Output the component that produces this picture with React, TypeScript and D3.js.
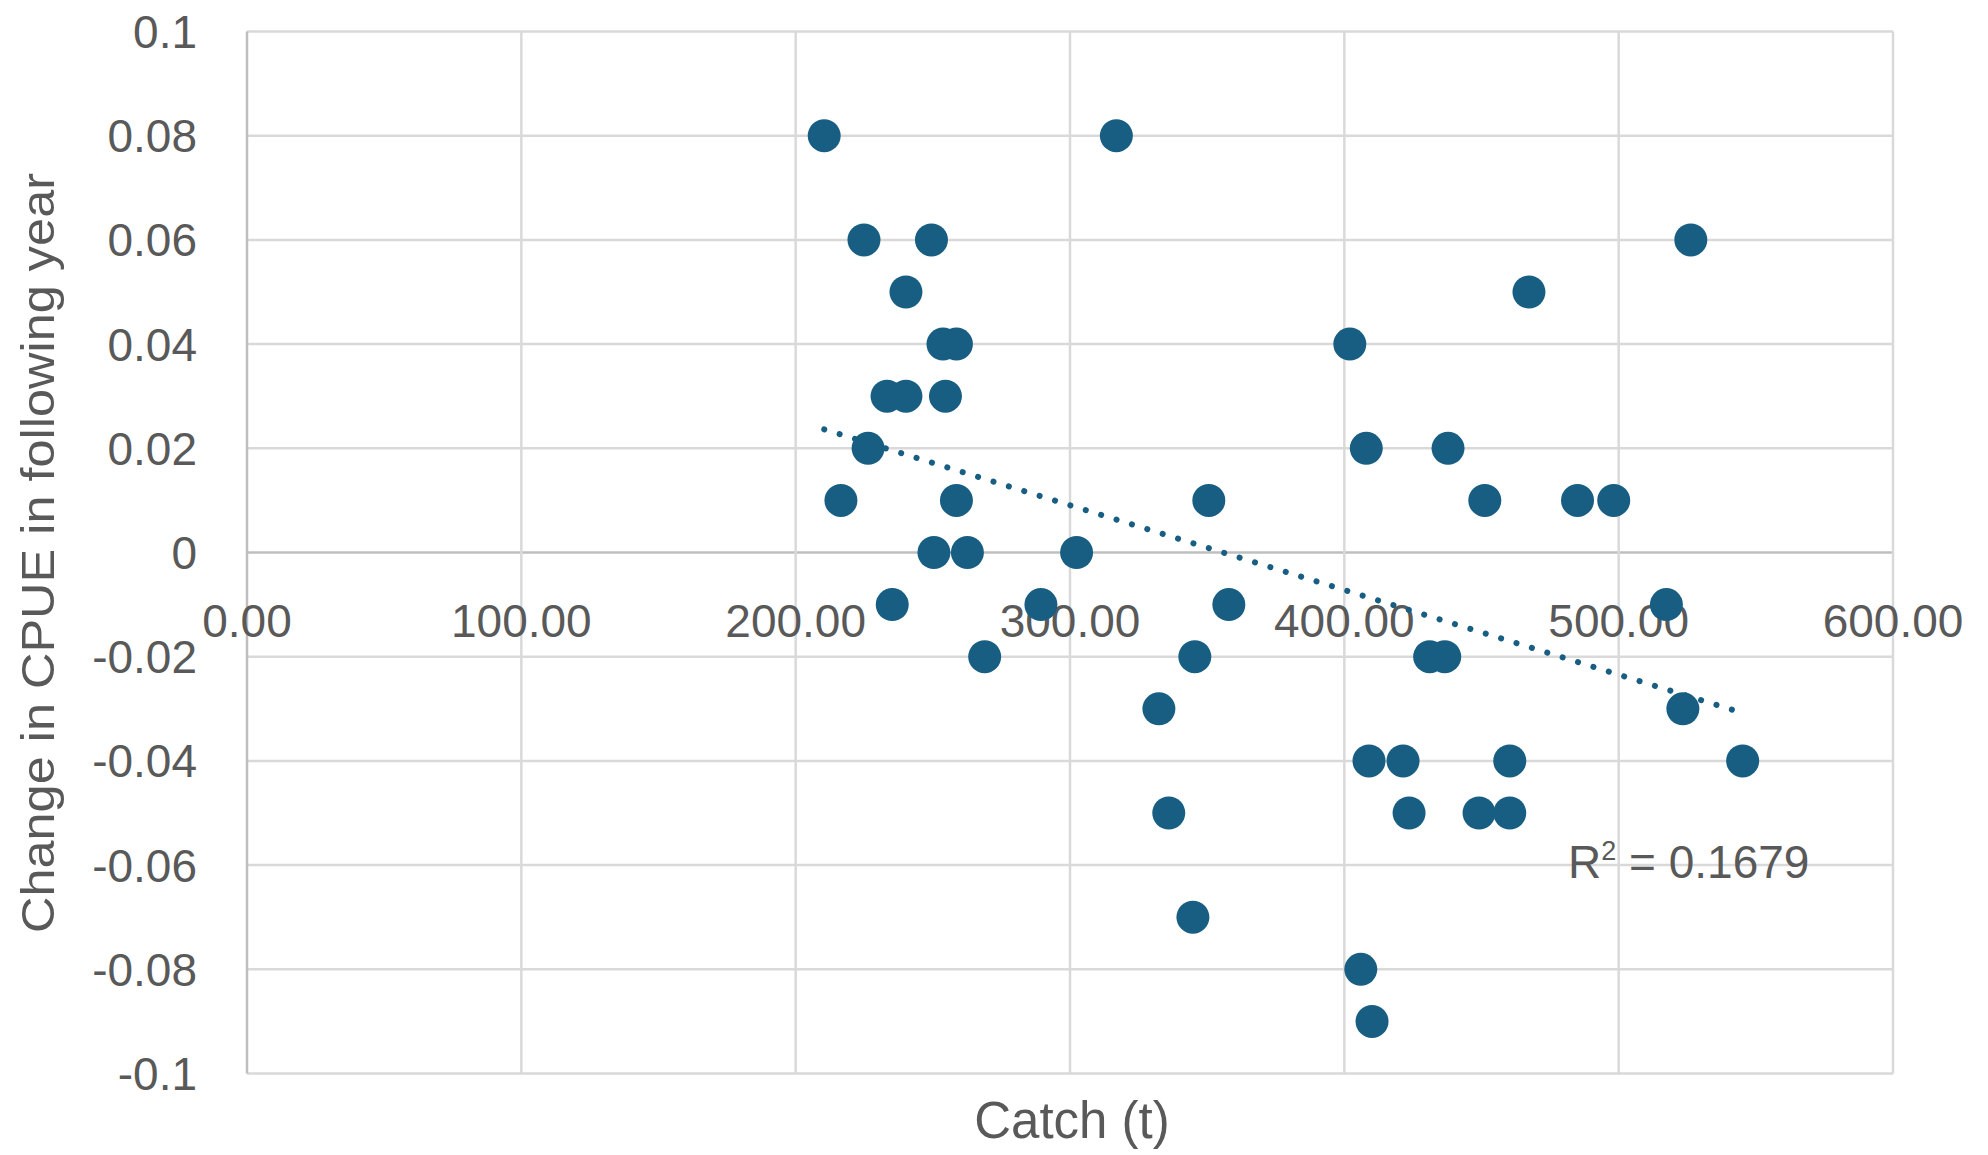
import React from "react";
import * as d3 from "d3";

const catchValues: number[] = [
  210.4, 316.9, 224.9, 249.5, 240.2, 253.7, 258.6, 233.3, 240.2, 254.6,
  226.4, 216.5, 258.6, 250.4, 262.6, 302.4, 235.2, 289.4, 268.9, 350.6,
  357.9, 345.5, 332.4, 336.0, 344.8, 467.3, 526.3, 402.0, 408.0, 437.8,
  451.2, 485.0, 498.2, 517.4, 431.1, 436.6, 523.4, 409.0, 421.4, 460.3,
  545.2, 423.6, 449.1, 460.3, 406.0, 410.1,
];
const cpueChange: number[] = [
  0.08, 0.08, 0.06, 0.06, 0.05, 0.04, 0.04, 0.03, 0.03, 0.03,
  0.02, 0.01, 0.01, 0.0, 0.0, 0.0, -0.01, -0.01, -0.02, 0.01,
  -0.01, -0.02, -0.03, -0.05, -0.07, 0.05, 0.06, 0.04, 0.02, 0.02,
  0.01, 0.01, 0.01, -0.01, -0.02, -0.02, -0.03, -0.04, -0.04, -0.04,
  -0.04, -0.05, -0.05, -0.05, -0.08, -0.09,
];
const xTicks: number[] = [0, 100, 200, 300, 400, 500, 600];
const yTicks: number[] = [0.1, 0.08, 0.06, 0.04, 0.02, 0, -0.02, -0.04, -0.06, -0.08, -0.1];
const yTickLabels: string[] = ["0.1", "0.08", "0.06", "0.04", "0.02", "0", "-0.02", "-0.04", "-0.06", "-0.08", "-0.1"];
const xTitle = "Catch (t)";
const yTitle = "Change in CPUE in following year";
const r2Label = "0.1679";

const W = 1988;
const H = 1155;
const FONT = "'Liberation Sans', Arial, sans-serif";
const TEXT = "#595959";
const GRID = "#d9d9d9";
const AXIS = "#bfbfbf";
const DOT = "#185e83";

export default function App() {
  const x = d3.scaleLinear().domain([0, 600]).range([247, 1893]);
  const y = d3.scaleLinear().domain([-0.1, 0.1]).range([1073.5, 31.5]);

  const pts = catchValues.map((c, i) => ({ x: c, y: cpueChange[i] }));
  const mx = d3.mean(pts, (p) => p.x) as number;
  const my = d3.mean(pts, (p) => p.y) as number;
  const sxy = d3.sum(pts, (p) => (p.x - mx) * (p.y - my));
  const sxx = d3.sum(pts, (p) => (p.x - mx) * (p.x - mx));
  const slope = sxy / sxx;
  const intercept = my - slope * mx;
  const [x0, x1] = d3.extent(catchValues) as [number, number];
  const line = d3
    .line<number>()
    .x((v) => x(v))
    .y((v) => y(intercept + slope * v));

  return (
    <svg
      width={W}
      height={H}
      style={{ position: "absolute", left: 0, top: 0, background: "#fff" }}
      fontFamily={FONT}
    >
      <rect width={W} height={H} fill="#fff" />
      {yTicks.map((t) => (
        <line
          key={"hy" + t}
          x1={x(0)}
          x2={x(600)}
          y1={y(t)}
          y2={y(t)}
          stroke={t === 0 ? AXIS : GRID}
          strokeWidth={2.5}
        />
      ))}
      {xTicks.map((t) => (
        <line
          key={"vx" + t}
          x1={x(t)}
          x2={x(t)}
          y1={y(0.1)}
          y2={y(-0.1)}
          stroke={t === 0 ? AXIS : GRID}
          strokeWidth={2.5}
        />
      ))}
      {yTicks.map((t, i) => (
        <text
          key={"yl" + t}
          x={197}
          y={y(t)}
          dy="0.36em"
          textAnchor="end"
          fontSize={46}
          fill={TEXT}
        >
          {yTickLabels[i]}
        </text>
      ))}
      {xTicks.map((t) => (
        <text
          key={"xl" + t}
          x={x(t)}
          y={y(0) + 84}
          textAnchor="middle"
          fontSize={46}
          fill={TEXT}
        >
          {d3.format(".2f")(t)}
        </text>
      ))}
      <path
        d={line([x0, x1]) || ""}
        fill="none"
        stroke={DOT}
        strokeWidth={6}
        strokeLinecap="round"
        strokeDasharray="0.1 16"
      />
      {pts.map((p, i) => (
        <circle key={"p" + i} cx={x(p.x)} cy={y(p.y)} r={16.5} fill={DOT} />
      ))}
      <text x={1568} y={878} fontSize={46} fill={TEXT}>
        R<tspan fontSize={27} dy={-18}>2</tspan>
        <tspan dy={18}>{" = " + r2Label}</tspan>
      </text>
      <text x={1072} y={1138} textAnchor="middle" fontSize={51} fill={TEXT}>
        {xTitle}
      </text>
      <text
        transform="translate(54,553) rotate(-90)"
        textAnchor="middle"
        fontSize={47}
        textLength={760}
        lengthAdjust="spacingAndGlyphs"
        fill={TEXT}
      >
        {yTitle}
      </text>
    </svg>
  );
}
